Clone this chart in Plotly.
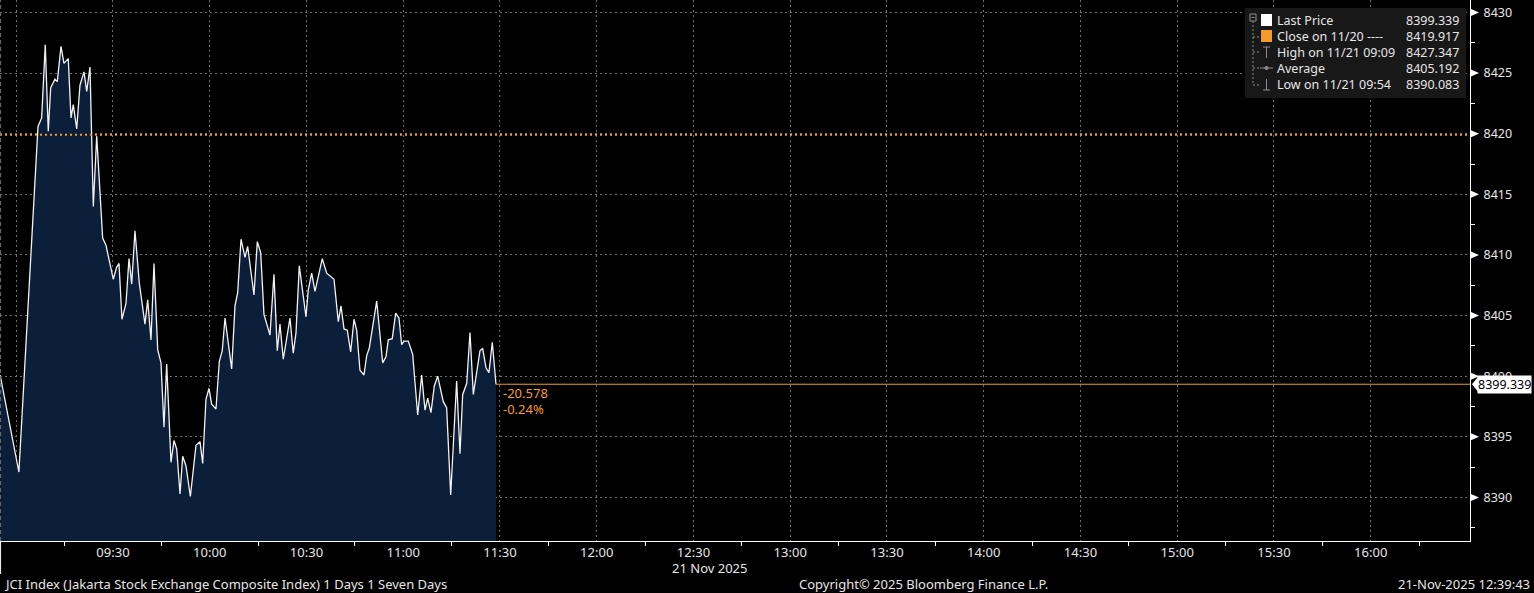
import plotly.graph_objects as go

# ---------------- data ----------------
DAY = "2025-11-21 "
times = [
    "08:55:00", "09:00:50", "09:06:45", "09:07:53", "09:09:00", "09:09:56", "09:10:41", "09:12:01",
    "09:12:44", "09:13:53", "09:14:48", "09:16:08", "09:16:59", "09:17:41", "09:18:45", "09:19:46",
    "09:21:01", "09:21:51", "09:22:52", "09:23:54", "09:24:57", "09:26:48", "09:27:50", "09:30:05",
    "09:31:09", "09:31:52", "09:32:47", "09:34:02", "09:34:58", "09:35:48", "09:36:49", "09:38:09",
    "09:39:55", "09:40:46", "09:41:47", "09:42:43", "09:43:52", "09:44:53", "09:45:49", "09:46:39",
    "09:47:59", "09:48:55", "09:49:45", "09:50:47", "09:51:37", "09:52:38", "09:54:00", "09:55:44",
    "09:56:59", "09:57:49", "09:58:50", "09:59:46", "10:00:36", "10:01:56", "10:02:58", "10:03:53",
    "10:04:44", "10:05:45", "10:06:48", "10:07:50", "10:08:40", "10:09:42", "10:10:56", "10:11:46",
    "10:13:43", "10:14:45", "10:15:48", "10:16:49", "10:18:41", "10:19:55", "10:20:57", "10:21:47",
    "10:22:48", "10:24:53", "10:25:54", "10:26:45", "10:27:46", "10:29:51", "10:30:33", "10:31:37",
    "10:32:38", "10:34:54", "10:36:16", "10:38:32", "10:39:52", "10:40:42", "10:41:38", "10:42:39",
    "10:43:42", "10:44:44", "10:45:34", "10:46:35", "10:47:50", "10:48:40", "10:49:28", "10:51:46",
    "10:53:38", "10:54:39", "10:55:22", "10:56:36", "10:57:39", "10:58:41", "10:59:31", "11:00:14",
    "11:01:34", "11:02:56", "11:04:29", "11:05:43", "11:06:45", "11:07:35", "11:08:36", "11:09:38",
    "11:10:41", "11:12:25", "11:13:28", "11:14:43", "11:16:34", "11:17:36", "11:18:26", "11:19:41",
    "11:20:42", "11:21:44", "11:23:48", "11:24:38", "11:25:40", "11:26:35", "11:27:37", "11:28:46",
]
values = [
    8400.1, 8392.1, 8420.6, 8421.3, 8427.347, 8420.2, 8423.8, 8424.5,
    8424.3, 8427.2, 8425.8, 8426.2, 8421.3, 8422.4, 8420.4, 8424.0,
    8425.1, 8423.5, 8425.5, 8414.0, 8419.8, 8411.4, 8410.8, 8408.0,
    8409.0, 8409.3, 8404.7, 8406.0, 8409.7, 8407.6, 8412.0, 8407.7,
    8404.3, 8406.3, 8403.0, 8409.3, 8402.2, 8401.1, 8395.8, 8401.0,
    8392.9, 8394.7, 8394.0, 8390.3, 8393.4, 8392.6, 8390.083, 8394.3,
    8394.6, 8392.8, 8398.1, 8399.0, 8397.7, 8397.3, 8401.2, 8402.1,
    8404.8, 8402.5, 8400.6, 8405.8, 8406.9, 8411.3, 8409.8, 8410.7,
    8406.7, 8411.1, 8410.2, 8405.1, 8403.4, 8408.4, 8402.1, 8404.3,
    8401.4, 8404.8, 8401.9, 8403.6, 8409.1, 8404.9, 8407.1, 8408.5,
    8407.0, 8409.7, 8408.5, 8408.0, 8404.5, 8405.8, 8403.9, 8403.8,
    8402.0, 8404.7, 8403.8, 8400.5, 8400.1, 8401.7, 8402.3, 8406.2,
    8401.1, 8401.6, 8403.0, 8403.1, 8405.2, 8404.8, 8402.6, 8402.9,
    8402.9, 8401.8, 8396.8, 8400.1, 8397.2, 8398.2, 8397.0, 8399.2,
    8400.0, 8397.9, 8397.4, 8390.2, 8399.6, 8393.6, 8398.5, 8399.4,
    8403.6, 8398.5, 8402.1, 8402.3, 8400.7, 8400.3, 8402.8, 8399.339,
]

last_price = 8399.339
prev_close = 8419.917
change_abs = "-20.578"
change_pct = "-0.24%"

legend_labels = ["Last Price", "Close on 11/20 ----", "High on 11/21 09:09", "Average", "Low on 11/21 09:54"]
legend_values = ["8399.339", "8419.917", "8427.347", "8405.192", "8390.083"]

y_ticks = [8390, 8395, 8400, 8405, 8410, 8415, 8420, 8425, 8430]
x_grid_times = ["09:00", "09:30", "10:00", "10:30", "11:00", "11:30", "12:00", "12:30",
                "13:00", "13:30", "14:00", "14:30", "15:00", "15:30", "16:00"]
x_tick_text = ["", "09:30", "10:00", "10:30", "11:00", "11:30", "12:00", "12:30",
               "13:00", "13:30", "14:00", "14:30", "15:00", "15:30", "16:00"]

x_range = [DAY + "08:54:58", DAY + "16:30:47"]
y_range = [8386.41, 8431.03]

title_left = "JCI Index (Jakarta Stock Exchange Composite Index) 1 Days 1 Seven Days"
title_mid = "Copyright\u00a9 2025 Bloomberg Finance L.P."
title_right = "21-Nov-2025 12:39:43"
date_label = "21 Nov 2025"

# ---------------- style ----------------
FONT = "Noto Sans"
W, H = 1534, 593
PW, PH = 1470, 541          # plot area in px
TXT = "#e6e6e6"
ORANGE = "#f39a2a"
GRID = "#6f6f6f"
FILL = "#0b1f3b"


def fx(px):
    return px / PW


def fy(py):
    return 1 - py / PH


xs = [DAY + t for t in times]

fig = go.Figure()
fig.add_trace(go.Scatter(
    x=xs, y=values, mode="lines", fill="tozeroy", fillcolor=FILL,
    line=dict(color="#f2f2f2", width=1.3), hoverinfo="skip", showlegend=False))
# last price extension line
fig.add_trace(go.Scatter(
    x=[xs[-1], x_range[1]], y=[last_price, last_price], mode="lines",
    line=dict(color=ORANGE, width=1), hoverinfo="skip", showlegend=False))

shapes = []
shapes.append(dict(type="line", xref="paper", yref="y", x0=0, x1=1, y0=prev_close, y1=prev_close,
                   line=dict(color=ORANGE, width=2, dash="2px,3px"), layer="above"))
shapes.append(dict(type="line", xref="paper", yref="paper", x0=0.0004, x1=0.0004, y0=0, y1=1,
                   line=dict(color=GRID, width=1, dash="4px,3px")))
shapes.append(dict(type="line", xref="paper", yref="paper", x0=0.0004, x1=0.0004, y0=0, y1=fy(574),
                   line=dict(color="white", width=1)))
for v in y_ticks:
    shapes.append(dict(type="path", xref="paper", yref="y", xsizemode="pixel", ysizemode="pixel",
                       xanchor=1, yanchor=v, path="M1,-3.5 L9,0 L1,3.5 Z",
                       fillcolor="white", line=dict(width=0), layer="above"))
shapes.append(dict(type="path", xref="paper", yref="y", xsizemode="pixel", ysizemode="pixel",
                   xanchor=1, yanchor=last_price, path="M2,0 L8,-7.5 L8,7.5 Z",
                   fillcolor="white", line=dict(width=0), layer="above"))

# legend box
shapes.append(dict(type="rect", xref="paper", yref="paper", x0=fx(1245), x1=fx(1466), y0=fy(98), y1=fy(8),
                   fillcolor="#181818", line=dict(width=0), layer="above"))
LG = "#8c8c8c"
shapes.append(dict(type="rect", xref="paper", yref="paper", x0=fx(1250), x1=fx(1256), y0=fy(21), y1=fy(14),
                   line=dict(color=LG, width=1), layer="above"))
shapes.append(dict(type="line", xref="paper", yref="paper", x0=fx(1251.5), x1=fx(1254.5), y0=fy(17.5), y1=fy(17.5),
                   line=dict(color=LG, width=1), layer="above"))
shapes.append(dict(type="line", xref="paper", yref="paper", x0=fx(1253), x1=fx(1253), y0=fy(21), y1=fy(85),
                   line=dict(color=LG, width=1, dash="2px,2px"), layer="above"))
for ry in [37, 52, 68, 85]:
    shapes.append(dict(type="line", xref="paper", yref="paper", x0=fx(1253), x1=fx(1259), y0=fy(ry), y1=fy(ry),
                       line=dict(color=LG, width=1, dash="2px,2px"), layer="above"))
shapes.append(dict(type="rect", xref="paper", yref="paper", x0=fx(1261), x1=fx(1272), y0=fy(26), y1=fy(14),
                   fillcolor="white", line=dict(width=0), layer="above"))
shapes.append(dict(type="rect", xref="paper", yref="paper", x0=fx(1261), x1=fx(1272), y0=fy(42), y1=fy(30),
                   fillcolor=ORANGE, line=dict(width=0), layer="above"))
shapes.append(dict(type="line", xref="paper", yref="paper", x0=fx(1266.5), x1=fx(1266.5), y0=fy(47), y1=fy(58),
                   line=dict(color=LG, width=1), layer="above"))
shapes.append(dict(type="line", xref="paper", yref="paper", x0=fx(1263), x1=fx(1270), y0=fy(47), y1=fy(47),
                   line=dict(color=LG, width=1), layer="above"))
shapes.append(dict(type="line", xref="paper", yref="paper", x0=fx(1260), x1=fx(1273), y0=fy(68), y1=fy(68),
                   line=dict(color=LG, width=1), layer="above"))
shapes.append(dict(type="circle", xref="paper", yref="paper", x0=fx(1264.5), x1=fx(1268.5), y0=fy(70), y1=fy(66),
                   fillcolor=LG, line=dict(width=0), layer="above"))
shapes.append(dict(type="line", xref="paper", yref="paper", x0=fx(1266.5), x1=fx(1266.5), y0=fy(79), y1=fy(90),
                   line=dict(color=LG, width=1), layer="above"))
shapes.append(dict(type="line", xref="paper", yref="paper", x0=fx(1263), x1=fx(1270), y0=fy(90), y1=fy(90),
                   line=dict(color=LG, width=1), layer="above"))

annotations = []
row_y = [20, 36.5, 52, 68, 84.5]
for lab, val, ry in zip(legend_labels, legend_values, row_y):
    annotations.append(dict(xref="paper", yref="paper", x=fx(1275), y=fy(ry), xanchor="left", yanchor="middle",
                            text=lab, showarrow=False, font=dict(family=FONT, size=12.5, color=TXT)))
    annotations.append(dict(xref="paper", yref="paper", x=fx(1461), y=fy(ry), xanchor="right", yanchor="middle",
                            text=val, showarrow=False, font=dict(family=FONT, size=12.5, color=TXT)))

annotations.append(dict(xref="x", yref="paper", x=xs[-1], xshift=5, y=fy(393), xanchor="left", yanchor="middle",
                        text=change_abs, showarrow=False, font=dict(family=FONT, size=13, color=ORANGE)))
annotations.append(dict(xref="x", yref="paper", x=xs[-1], xshift=5, y=fy(409), xanchor="left", yanchor="middle",
                        text=change_pct, showarrow=False, font=dict(family=FONT, size=13, color=ORANGE)))
annotations.append(dict(xref="paper", yref="y", x=1, xshift=7, y=last_price, xanchor="left", yanchor="middle",
                        text="{:.3f}".format(last_price), showarrow=False, bgcolor="white", borderpad=0,
                        font=dict(family=FONT, size=12.5, color="black")))
annotations.append(dict(xref="paper", yref="paper", x=fx(709), y=fy(568), xanchor="center", yanchor="middle",
                        text=date_label, showarrow=False, font=dict(family=FONT, size=13, color=TXT)))
annotations.append(dict(xref="paper", yref="paper", x=fx(2), y=fy(584), xanchor="left", yanchor="middle",
                        text=title_left, showarrow=False, font=dict(family=FONT, size=13, color=TXT)))
annotations.append(dict(xref="paper", yref="paper", x=fx(923), y=fy(584), xanchor="center", yanchor="middle",
                        text=title_mid, showarrow=False, font=dict(family=FONT, size=13, color=TXT)))
annotations.append(dict(xref="paper", yref="paper", x=fx(1532), y=fy(584), xanchor="right", yanchor="middle",
                        text=title_right, showarrow=False, font=dict(family=FONT, size=13, color=TXT)))

fig.update_layout(
    width=W, height=H,
    margin=dict(l=0, r=W - PW, t=0, b=H - PH, pad=0),
    paper_bgcolor="black", plot_bgcolor="black",
    font=dict(family=FONT, size=12, color=TXT),
    showlegend=False,
    shapes=shapes,
    annotations=annotations,
    xaxis=dict(
        type="date", range=x_range,
        tickvals=[DAY + t for t in x_grid_times], ticktext=x_tick_text,
        showgrid=True, gridcolor=GRID, gridwidth=1, griddash="2px,3px",
        showline=True, linecolor="white", linewidth=1,
        ticks="outside", ticklen=3, tickcolor="black", ticklabelstandoff=-4,
        minor=dict(ticks="outside", ticklen=4, tickcolor="white", tickwidth=1,
                   tick0=DAY + "09:15", dtick=30 * 60 * 1000, showgrid=False),
        tickfont=dict(family=FONT, size=13, color=TXT),
        zeroline=False, fixedrange=True,
    ),
    yaxis=dict(
        side="right", range=y_range,
        tickvals=y_ticks, ticktext=[str(v) for v in y_ticks],
        showgrid=True, gridcolor=GRID, gridwidth=1, griddash="2px,3px",
        showline=True, linecolor="white", linewidth=1,
        ticks="outside", ticklen=4, tickcolor="white", ticklabelstandoff=6,
        minor=dict(ticks="outside", ticklen=4, tickcolor="white", tickwidth=1,
                   tick0=8387.5, dtick=5, showgrid=False),
        tickfont=dict(family=FONT, size=12.5, color=TXT),
        zeroline=False, fixedrange=True,
    ),
)

fig.write_html("out.html", config={"displayModeBar": False},
               post_script="document.body.style.margin='0';document.body.style.padding='0';")
